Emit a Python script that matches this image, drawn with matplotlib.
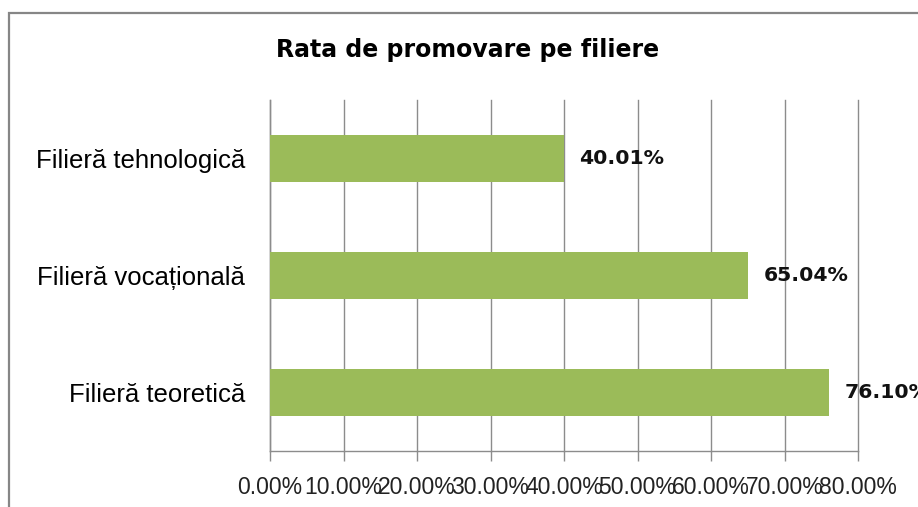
import matplotlib.pyplot as plt
import matplotlib.patches as mpatches
from matplotlib.ticker import FuncFormatter, MultipleLocator

categories = ["Filieră teoretică", "Filieră vocațională", "Filieră tehnologică"]
rates = [76.10, 65.04, 40.01]
title = "Rata de promovare pe filiere"

BAR_COLOR = "#9BBB59"
GRID_COLOR = "#8C8C8C"

W, H = 918, 507
fig = plt.figure(figsize=(W / 100, H / 100), dpi=100)

# chart frame (cut off at right and bottom like the reference)
fig.patches.append(mpatches.Rectangle((9 / W, -0.1), 1.2, (H - 13) / H + 0.1,
                                      transform=fig.transFigure, fill=False,
                                      edgecolor="#868686", linewidth=1.6))

ax = fig.add_axes([270 / W, (H - 451) / H, (858 - 270) / W, (451 - 100) / H])
y = list(range(len(categories)))
ax.barh(y, rates, height=0.4, color=BAR_COLOR, zorder=3)

ax.set_xlim(0, 80)
ax.set_ylim(-0.5, len(categories) - 0.5)
ax.xaxis.set_major_locator(MultipleLocator(10))
ax.xaxis.set_major_formatter(FuncFormatter(lambda v, p: f"{v:.2f}%"))
ax.grid(axis="x", color=GRID_COLOR, linewidth=1.0, zorder=0)
for gl in ax.get_xgridlines():
    gl.set_clip_on(False)

ax.set_yticks(y)
ax.set_yticklabels(categories, fontsize=18.5, family="Liberation Sans")
ax.tick_params(axis="y", length=0, pad=18)
ax.tick_params(axis="x", length=7, color=GRID_COLOR, width=1.0, pad=11,
               labelsize=16.5, labelcolor="#222222")
for lab in ax.get_xticklabels():
    lab.set_family("Liberation Sans")

for s in ["top", "right"]:
    ax.spines[s].set_visible(False)
for s in ["left", "bottom"]:
    ax.spines[s].set_color(GRID_COLOR)
    ax.spines[s].set_linewidth(1.0)

for yi, v in zip(y, rates):
    ax.text(v + 2.1, yi, f"{v:.2f}%", va="center", ha="left", fontsize=14.7,
            fontweight="bold", family="DejaVu Sans", color="#111111",
            clip_on=False)

fig.text(468 / W, 1 - 50 / H, title, ha="center", va="center",
         fontsize=17, fontweight="bold", family="DejaVu Sans")

fig.savefig("out.png", dpi=100)
